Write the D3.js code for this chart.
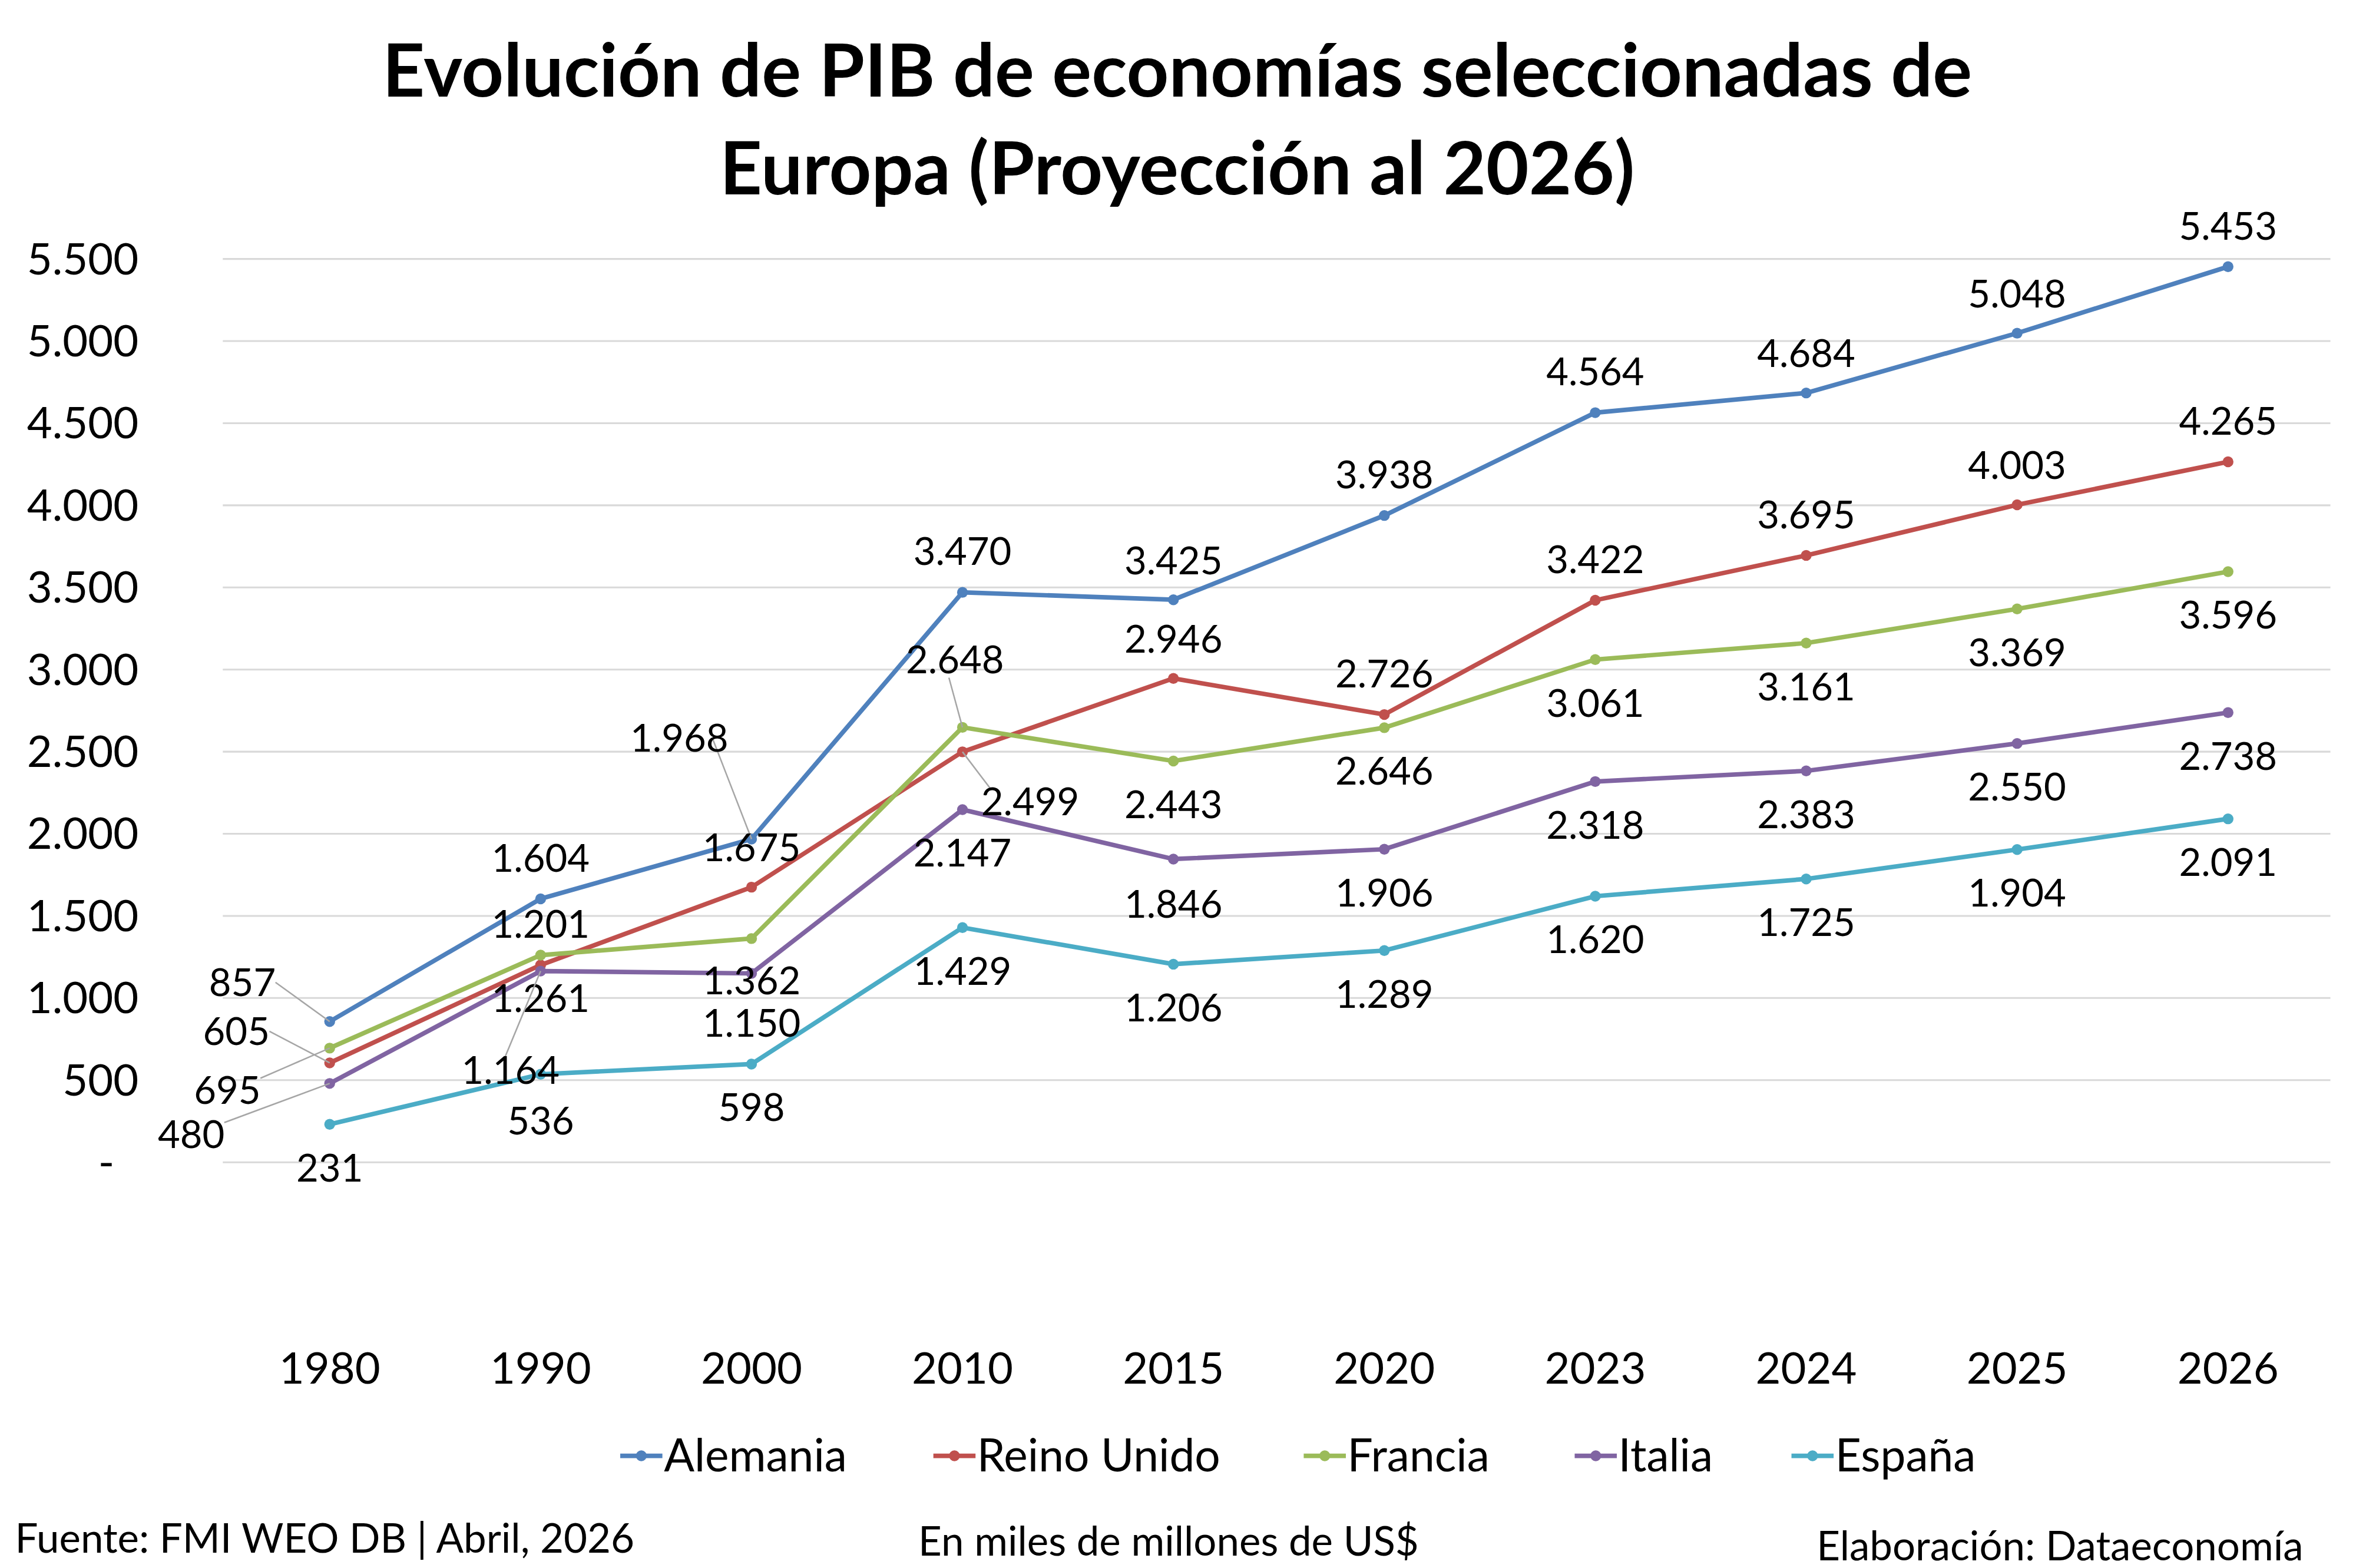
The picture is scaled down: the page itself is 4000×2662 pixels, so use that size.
<!DOCTYPE html>
<html><head><meta charset="utf-8">
<script src="https://cdn.jsdelivr.net/npm/d3@7"></script>
<style>body{margin:0;background:#fff}</style></head>
<body><div id="c"></div>
<script>
const years = ["1980","1990","2000","2010","2015","2020","2023","2024","2025","2026"];
const seriesNames = ["Alemania","Reino Unido","Francia","Italia","España"];
const colors = ["#4F81BD","#C0504D","#9BBB59","#8064A2","#4BACC6"];
const alemania = [857,1604,1968,3470,3425,3938,4564,4684,5048,5453];
const reinoUnido = [605,1201,1675,2499,2946,2726,3422,3695,4003,4265];
const francia = [695,1261,1362,2648,2443,2646,3061,3161,3369,3596];
const italia = [480,1164,1150,2147,1846,1906,2318,2383,2550,2738];
const espana = [231,536,598,1429,1206,1289,1620,1725,1904,2091];
const yTicks = [0,500,1000,1500,2000,2500,3000,3500,4000,4500,5000,5500];
const values = [alemania,reinoUnido,francia,italia,espana];

// label offsets (dx, dy) and optional leader line per series/point — layout only
const labelPos = [
 [[-58,-26,1],[0,-27],[-48,-67,1],[0,-27],[0,-26],[0,-27],[0,-27],[0,-26],[0,-26],[0,-27]],
 [[-62,-21,1],[0,-27],[0,-26],[45,33,1],[0,-26],[0,-27],[0,-27],[0,-27],[0,-26],[0,-27]],
 [[-68,28,1],[0,29],[0,28],[-5,-45,1],[0,29],[0,29],[0,29],[0,29],[0,29],[0,29]],
 [[-92,34,1],[-20,66,1],[0,33],[0,29],[0,30],[0,29],[0,29],[0,29],[0,29],[0,29]],
 [[0,29],[0,31],[0,29],[0,29],[0,29],[0,29],[0,29],[0,29],[0,29],[0,29]]
];

const W=1565, H=2662*1565/4000;
const svg=d3.select("#c").append("svg").attr("width",4000).attr("height",2662)
  .attr("viewBox",`0 0 ${W} ${H}`).style("font-family","Lato, 'Open Sans', sans-serif");
svg.append("rect").attr("width",W).attr("height",H).attr("fill","#fff");

const x=d3.scalePoint().domain(years).range([219,1480]);
const y=d3.scaleLinear().domain([0,5500]).range([772,172]);
const fmt=v=>v===0?"-":d3.format(",")(v).replace(/,/g,".");

svg.append("g").selectAll("line").data(yTicks).join("line")
  .attr("x1",148).attr("x2",1548).attr("y1",d=>y(d)).attr("y2",d=>y(d))
  .attr("stroke","#d9d9d9").attr("stroke-width",1.2);
svg.append("g").selectAll("text").data(yTicks).join("text")
  .attr("x",d=>d===0?76:92).attr("y",d=>y(d)).attr("dy","0.35em").attr("text-anchor","end")
  .attr("font-size",29).attr("fill","#000").text(fmt);
svg.append("g").selectAll("text").data(years).join("text")
  .attr("x",d=>x(d)).attr("y",909).attr("dy","0.35em").attr("text-anchor","middle")
  .attr("font-size",29).text(d=>d);

svg.append("text").attr("x",782).attr("y",47).attr("dy","0.35em").attr("text-anchor","middle")
  .attr("font-size",49).attr("font-weight","bold").text("Evolución de PIB de economías seleccionadas de");
svg.append("text").attr("x",782).attr("y",112).attr("dy","0.35em").attr("text-anchor","middle")
  .attr("font-size",49).attr("font-weight","bold").text("Europa (Proyección al 2026)");

const line=d3.line().x((d,i)=>x(years[i])).y(d=>y(d));
values.forEach((vals,s)=>{
  const g=svg.append("g");
  g.append("path").attr("d",line(vals)).attr("fill","none").attr("stroke",colors[s]).attr("stroke-width",3);
  g.selectAll("circle").data(vals).join("circle").attr("cx",(d,i)=>x(years[i])).attr("cy",d=>y(d))
    .attr("r",3.6).attr("fill",colors[s]);
});
values.forEach((vals,s)=>{
  vals.forEach((v,i)=>{
    const [dx,dy,lead]=labelPos[s][i];
    const px=x(years[i]), py=y(v), lx=px+dx, ly=py+dy;
    if(lead){
      const sx = dx<0 ? lx+ (Math.abs(dx)>20?22:-4) : lx-26;
      const sy = ly + (dy<0?(Math.abs(dx)>20?0:12):-8);
      svg.append("polyline").attr("points",`${sx},${sy} ${sx+ (px-sx)*0.35},${sy+(py-sy)*0.35} ${px},${py}`)
        .attr("fill","none").attr("stroke","#a6a6a6").attr("stroke-width",1);
    }
    svg.append("text").attr("x",lx).attr("y",ly).attr("dy","0.35em").attr("text-anchor","middle")
      .attr("font-size",25.5).text(fmt(v));
  });
});

const legX=[412,620,866,1046,1190];
seriesNames.forEach((n,s)=>{
  const g=svg.append("g").attr("transform",`translate(${legX[s]},967)`);
  g.append("line").attr("x1",0).attr("x2",28).attr("stroke",colors[s]).attr("stroke-width",3);
  g.append("circle").attr("cx",14).attr("r",3.6).attr("fill",colors[s]);
  g.append("text").attr("x",29).attr("dy","0.35em").attr("font-size",30).text(n);
});
svg.append("text").attr("x",10).attr("y",1022).attr("dy","0.35em").attr("font-size",27).text("Fuente: FMI WEO DB | Abril, 2026");
svg.append("text").attr("x",610).attr("y",1024).attr("dy","0.35em").attr("font-size",27).text("En miles de millones de US$");
svg.append("text").attr("x",1530).attr("y",1027).attr("dy","0.35em").attr("text-anchor","end").attr("font-size",27).text("Elaboración: Dataeconomía");
</script></body></html>
